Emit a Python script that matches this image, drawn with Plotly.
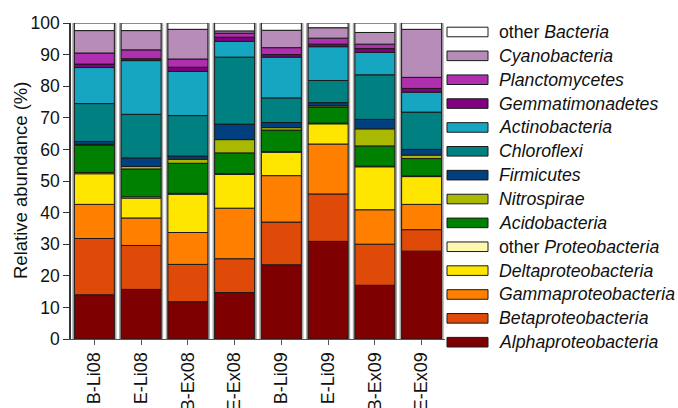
import numpy as np
import plotly.graph_objects as go

samples = ["B-Li08", "E-Li08", "B-Ex08", "E-Ex08", "B-Li09", "E-Li09", "B-Ex09", "E-Ex09"]

# Relative abundance (%) per phylum / class, stacked bottom to top
alphaproteobacteria = [14.0, 15.7, 11.8, 14.7, 23.5, 30.9, 17.0, 27.8]
betaproteobacteria = [17.8, 13.9, 11.8, 10.7, 13.5, 15.0, 13.0, 6.8]
gammaproteobacteria = [10.8, 8.7, 10.1, 16.0, 14.7, 15.8, 10.9, 8.0]
deltaproteobacteria = [9.7, 6.3, 12.1, 10.7, 7.4, 6.4, 13.6, 8.8]
other_proteobacteria = [0.4, 0.4, 0.3, 0.2, 0.2, 0.2, 0.2, 0.2]
acidobacteria = [8.6, 8.8, 9.5, 6.6, 6.8, 5.1, 6.4, 5.5]
nitrospirae = [0.3, 0.8, 1.3, 4.2, 0.8, 0.4, 5.4, 1.1]
firmicutes = [0.9, 2.7, 1.0, 4.9, 1.6, 1.0, 3.0, 1.8]
chloroflexi = [12.0, 13.8, 12.8, 21.2, 7.8, 7.0, 14.1, 11.8]
actinobacteria = [11.4, 17.0, 14.0, 5.0, 12.9, 10.7, 7.1, 6.3]
gemmatimonadetes = [1.1, 0.6, 1.3, 1.3, 0.8, 0.8, 1.2, 1.2]
planctomycetes = [3.5, 2.8, 2.6, 1.3, 2.2, 1.9, 1.4, 3.5]
cyanobacteria = [7.1, 6.1, 9.4, 0.7, 5.5, 3.3, 3.7, 15.2]
other_bacteria = [2.4, 2.4, 2.0, 2.5, 2.3, 1.5, 3.0, 2.0]

series = [
    ("<i>Alphaproteobacteria</i>", alphaproteobacteria, "#7f0000"),
    ("<i>Betaproteobacteria</i>", betaproteobacteria, "#e04a08"),
    ("<i>Gammaproteobacteria</i>", gammaproteobacteria, "#ff8000"),
    ("<i>Deltaproteobacteria</i>", deltaproteobacteria, "#ffe600"),
    ("other <i>Proteobacteria</i>", other_proteobacteria, "#fff9b0"),
    ("<i>Acidobacteria</i>", acidobacteria, "#008000"),
    ("<i>Nitrospirae</i>", nitrospirae, "#a9b800"),
    ("<i>Firmicutes</i>", firmicutes, "#003f80"),
    ("<i>Chloroflexi</i>", chloroflexi, "#008080"),
    ("<i>Actinobacteria</i>", actinobacteria, "#16a6c2"),
    ("<i>Gemmatimonadetes</i>", gemmatimonadetes, "#800080"),
    ("<i>Planctomycetes</i>", planctomycetes, "#b02fb0"),
    ("<i>Cyanobacteria</i>", cyanobacteria, "#b78cb8"),
    ("other <i>Bacteria</i>", other_bacteria, "#ffffff"),
]

FONT = "Liberation Sans, Arial, sans-serif"
BAR_W = 0.855

fig = go.Figure()

# light grey rim behind each column
totals = np.sum([s[1] for s in series], axis=0)
fig.add_trace(go.Bar(
    x=samples, y=totals + 0.6, base=0, width=BAR_W + 0.09,
    marker=dict(color="#a8a8a8", line=dict(width=0)),
    showlegend=False, hoverinfo="skip",
))

base = np.zeros(len(samples))
for name, vals, color in series:
    vals = np.asarray(vals, dtype=float)
    fig.add_trace(go.Bar(
        x=samples, y=vals, base=base.copy(), width=BAR_W, name=name,
        marker=dict(color=color, line=dict(color="#1a1a1a", width=1)),
        showlegend=False,
    ))
    base += vals

# plot area in pixels (for the side legend)
L, R, T, B = 71, 445, 23, 339.5
W, H = R - L, B - T


def px_x(p):
    return (p - L) / W


def px_y(p):
    return (B - p) / H


shapes = []
annotations = []
row0, step = 32.0, 23.9
for i, (name, vals, color) in enumerate(reversed(series)):
    cy = row0 + i * step
    shapes.append(dict(
        type="rect", xref="paper", yref="paper",
        x0=px_x(447), x1=px_x(488), y0=px_y(cy + 4.8), y1=px_y(cy - 4.8),
        fillcolor=color, line=dict(color="#1a1a1a", width=1),
    ))
    annotations.append(dict(
        xref="paper", yref="paper", x=px_x(497), y=px_y(cy),
        xanchor="left", yanchor="middle", text=name, showarrow=False,
        font=dict(family=FONT, size=17.7, color="#111111"),
    ))

# y-axis title placed by hand
annotations.append(dict(
    xref="paper", yref="paper", x=px_x(20), y=0.5,
    xanchor="center", yanchor="middle", textangle=-90,
    text="Relative abundance (%)", showarrow=False,
    font=dict(family=FONT, size=18.5, color="#111111"),
))

fig.update_layout(
    width=678, height=408,
    margin=dict(l=L, r=678 - R, t=T, b=408 - B),
    barmode="overlay",
    plot_bgcolor="white", paper_bgcolor="white",
    font=dict(family=FONT, color="#111111"),
    shapes=shapes, annotations=annotations,
    xaxis=dict(
        range=[-0.5, 7.5], showgrid=False, zeroline=False, automargin=False,
        showline=True, linecolor="#555555", linewidth=1,
        ticks="outside", ticklen=5, tickcolor="#555555",
        tickangle=-90, tickfont=dict(size=18),
    ),
    yaxis=dict(
        range=[0, 100], tickvals=list(range(0, 101, 10)),
        showgrid=False, zeroline=False, automargin=False,
        showline=True, linecolor="#333333", linewidth=1.5,
        ticks="outside", ticklen=6, tickcolor="#333333",
        tickfont=dict(size=17.5),
    ),
)

fig.write_html("out.html")
